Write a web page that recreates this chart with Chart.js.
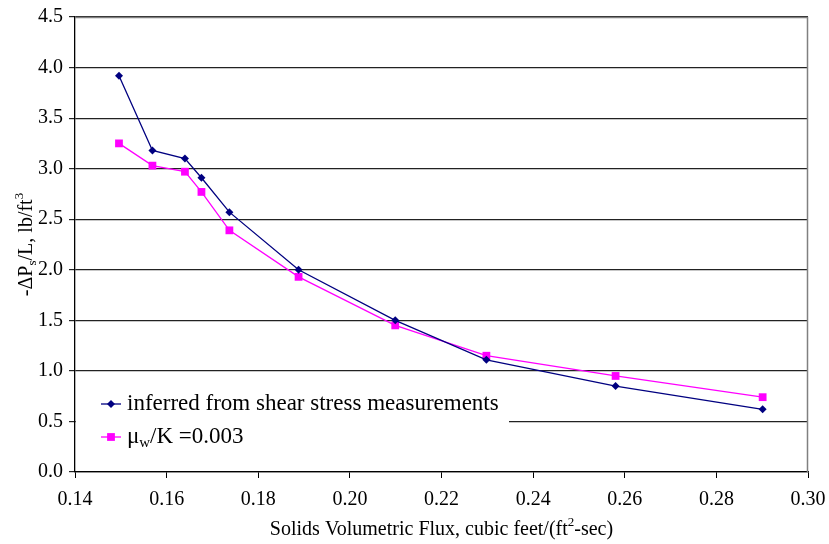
<!DOCTYPE html>
<html>
<head>
<meta charset="utf-8">
<title>Solids pressure gradient vs. volumetric flux</title>
<script src="https://cdn.jsdelivr.net/npm/chart.js@4/dist/chart.umd.min.js"></script>
<style>
  html, body { margin: 0; padding: 0; background: #fff; }
  #wrap { width: 829px; height: 544px; }
</style>
</head>
<body>
<div id="wrap"><canvas id="chart" width="829" height="544"></canvas></div>
<script>
// Solids volumetric flux, cubic feet/(ft^2-sec)
const fluxValues = [0.1496, 0.1569, 0.1640, 0.1676, 0.1737, 0.1888, 0.2099, 0.2298, 0.2580, 0.2901];
// -dPs/L, lb/ft^3, inferred from shear stress measurements
const inferredValues = [3.92, 3.18, 3.10, 2.91, 2.57, 2.00, 1.50, 1.11, 0.85, 0.62];
// -dPs/L, lb/ft^3, model with mu_w/K = 0.003
const modelValues = [3.25, 3.03, 2.97, 2.77, 2.39, 1.93, 1.45, 1.15, 0.95, 0.74];

const xTicks = [0.14, 0.16, 0.18, 0.20, 0.22, 0.24, 0.26, 0.28, 0.30];
const yTicks = [0.0, 0.5, 1.0, 1.5, 2.0, 2.5, 3.0, 3.5, 4.0, 4.5];

const seriesNames = ['inferred from shear stress measurements', 'μw/K =0.003'];

const FONT = '"Liberation Serif", "Times New Roman", serif';
const NAVY = '#000080';
const MAGENTA = '#FF00FF';

const toPoints = (xs, ys) => xs.map((x, i) => ({ x: x, y: ys[i] }));

// Draw a run of text pieces with optional sub/superscripts, starting at x.
function drawRich(ctx, pieces, x, y, size) {
  let cx = x;
  for (const p of pieces) {
    const s = p.sub || p.sup ? size * 0.65 : size;
    ctx.font = s + 'px ' + FONT;
    const dy = p.sub ? size * 0.28 : (p.sup ? -size * 0.38 : 0);
    ctx.fillText(p.t, cx, y + dy);
    cx += ctx.measureText(p.t).width;
  }
  return cx - x;
}
function measureRich(ctx, pieces, size) {
  let w = 0;
  for (const p of pieces) {
    const s = p.sub || p.sup ? size * 0.65 : size;
    ctx.font = s + 'px ' + FONT;
    w += ctx.measureText(p.t).width;
  }
  return w;
}

const decorations = {
  id: 'decorations',
  beforeDatasetsDraw(chart) {
    const { ctx, chartArea: a } = chart;
    ctx.save();
    // grey frame on top and right of the plot area
    ctx.strokeStyle = '#808080';
    ctx.lineWidth = 1.5;
    ctx.beginPath();
    ctx.moveTo(a.left, a.top + 0.5);
    ctx.lineTo(a.right - 0.5, a.top + 0.5);
    ctx.lineTo(a.right - 0.5, a.bottom);
    ctx.stroke();
    ctx.restore();
  },
  afterDraw(chart) {
    const { ctx, chartArea: a } = chart;
    ctx.save();
    ctx.fillStyle = '#000';
    ctx.textBaseline = 'middle';

    // x axis title
    const xTitle = [{ t: 'Solids Volumetric Flux, cubic feet/(ft' }, { t: '2', sup: true }, { t: '-sec)' }];
    const xs = 20;
    const xw = measureRich(ctx, xTitle, xs);
    drawRich(ctx, xTitle, (a.left + a.right) / 2 - xw / 2, 530, xs);

    // y axis title, rotated
    const yTitle = [{ t: '-ΔP' }, { t: 's', sub: true }, { t: '/L, lb/ft' }, { t: '3', sup: true }];
    const ys = 20;
    const yw = measureRich(ctx, yTitle, ys);
    ctx.save();
    ctx.translate(27, (a.top + a.bottom) / 2);
    ctx.rotate(-Math.PI / 2);
    drawRich(ctx, yTitle, -yw / 2, 0, ys);
    ctx.restore();

    // legend box inside the plot
    ctx.fillStyle = '#fff';
    ctx.fillRect(a.left + 1, 384, 508 - a.left, 78);
    const rows = [
      { y: 404, color: NAVY, style: 'rectRot', r: 4, label: [{ t: seriesNames[0] }] },
      { y: 437, color: MAGENTA, style: 'rect', r: 5.5, label: [{ t: 'μ' }, { t: 'w', sub: true }, { t: '/K =0.003' }] }
    ];
    for (const row of rows) {
      ctx.strokeStyle = row.color;
      ctx.lineWidth = 1.3;
      ctx.beginPath();
      ctx.moveTo(101, row.y);
      ctx.lineTo(121, row.y);
      ctx.stroke();
      ctx.fillStyle = row.color;
      ctx.beginPath();
      if (row.style === 'rect') {
        const h = row.r * Math.SQRT1_2;
        ctx.fillRect(111 - h, row.y - h, 2 * h, 2 * h);
      } else {
        ctx.moveTo(111 - row.r, row.y);
        ctx.lineTo(111, row.y - row.r);
        ctx.lineTo(111 + row.r, row.y);
        ctx.lineTo(111, row.y + row.r);
        ctx.closePath();
        ctx.fill();
      }
      ctx.fillStyle = '#000';
      drawRich(ctx, row.label, 127, row.y, 23);
    }
    ctx.restore();
  }
};

new Chart(document.getElementById('chart'), {
  type: 'scatter',
  data: {
    datasets: [
      {
        label: seriesNames[0],
        data: toPoints(fluxValues, inferredValues),
        showLine: true,
        borderColor: NAVY,
        backgroundColor: NAVY,
        borderWidth: 1.3,
        pointStyle: 'rectRot',
        pointRadius: 4,
        pointBorderWidth: 0,
        pointHoverRadius: 4
      },
      {
        label: seriesNames[1],
        data: toPoints(fluxValues, modelValues),
        showLine: true,
        borderColor: MAGENTA,
        backgroundColor: MAGENTA,
        borderWidth: 1.3,
        pointStyle: 'rect',
        pointRadius: 5.5,
        pointBorderWidth: 0,
        pointHoverRadius: 5.5
      }
    ]
  },
  options: {
    responsive: false,
    animation: false,
    layout: { padding: { left: 0, right: 21, top: 17, bottom: 0 } },
    plugins: {
      legend: { display: false },
      tooltip: { enabled: false }
    },
    scales: {
      x: {
        type: 'linear',
        min: xTicks[0],
        max: xTicks[xTicks.length - 1],
        afterBuildTicks: (s) => { s.ticks = xTicks.map(v => ({ value: v })); },
        afterFit: (s) => { s.height = 544 - 472; s.paddingLeft = 0; s.paddingRight = 0; },
        ticks: {
          callback: (v) => v.toFixed(2),
          color: '#000',
          font: { family: FONT, size: 20 },
          padding: 10,
          maxRotation: 0,
          autoSkip: false
        },
        grid: { drawOnChartArea: false, drawTicks: true, tickLength: 6, color: '#000' },
        border: { display: true, color: '#000', width: 1.3 }
      },
      y: {
        type: 'linear',
        min: yTicks[0],
        max: yTicks[yTicks.length - 1],
        afterBuildTicks: (s) => { s.ticks = yTicks.map(v => ({ value: v })); },
        afterFit: (s) => { s.width = 75; s.paddingTop = 0; s.paddingBottom = 0; },
        ticks: {
          callback: (v) => v.toFixed(1),
          color: '#000',
          font: { family: FONT, size: 20 },
          padding: 6,
          autoSkip: false
        },
        grid: { color: '#222', lineWidth: 1.2, drawTicks: true, tickLength: 6 },
        border: { display: true, color: '#000', width: 1.3 }
      }
    }
  },
  plugins: [decorations]
});
</script>
</body>
</html>
